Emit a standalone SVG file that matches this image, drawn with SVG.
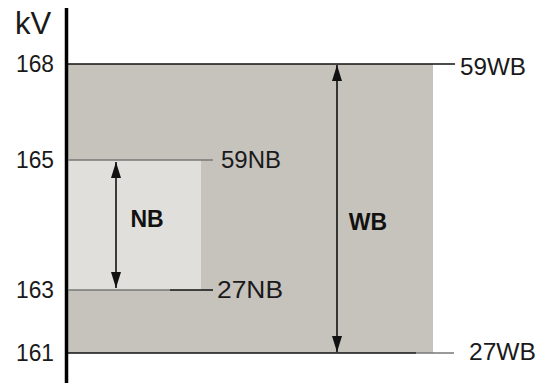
<svg xmlns="http://www.w3.org/2000/svg" width="544" height="383" viewBox="0 0 544 383">
<defs>
<style>
.t{font-family:"Liberation Sans",Arial,sans-serif;font-size:23px;fill:#1a1a1a}
.b{font-family:"Liberation Sans",Arial,sans-serif;font-size:23px;font-weight:bold;fill:#111}
.ln{stroke:#111;stroke-width:1.6;fill:none}
.gl{stroke:#777;stroke-width:1.6;fill:none}
.ar{stroke:#111;stroke-width:1.6;fill:none;marker-start:url(#ah);marker-end:url(#ah)}
</style>
<marker id="ah" markerUnits="userSpaceOnUse" markerWidth="16" markerHeight="10" viewBox="0 0 16 10" refX="16" refY="5" orient="auto-start-reverse">
<path d="M0,0 L16,5 L0,10 Z" fill="#111"/>
</marker>
</defs>
<g id="wb-band">
<rect x="67" y="64" width="366" height="289" fill="#c6c3bd"/>
</g>
<g id="nb-band">
<rect x="67" y="160" width="134" height="130" fill="#e0dfdb"/>
</g>
<g id="axis">
<line x1="66.5" y1="8" x2="66.5" y2="383" stroke="#000" stroke-width="3.5"/>
<text class="t" x="15" y="34" style="font-size:31px">kV</text>
<text class="t" x="54" y="72" text-anchor="end" textLength="38" lengthAdjust="spacingAndGlyphs">168</text>
<text class="t" x="54" y="168" text-anchor="end" textLength="38" lengthAdjust="spacingAndGlyphs">165</text>
<text class="t" x="54" y="298" text-anchor="end" textLength="38" lengthAdjust="spacingAndGlyphs">163</text>
<text class="t" x="54" y="361" text-anchor="end" textLength="38" lengthAdjust="spacingAndGlyphs">161</text>
</g>
<g id="connectors">
<line class="ln" x1="68" y1="64" x2="455" y2="64"/>
<line class="ln" x1="68" y1="353" x2="416" y2="353"/>
<line class="gl" x1="416" y1="353" x2="454" y2="353"/>
<line class="gl" x1="68" y1="160" x2="213" y2="160"/>
<line class="gl" x1="68" y1="290" x2="170" y2="290"/>
<line class="ln" x1="170" y1="290" x2="213" y2="290"/>
<line class="ar" x1="116" y1="162" x2="116" y2="288"/>
<line class="ar" x1="337" y1="65" x2="337" y2="352"/>
</g>
<g id="label-59WB"><text class="t" x="460" y="75" textLength="66" lengthAdjust="spacingAndGlyphs">59WB</text></g>
<g id="label-27WB"><text class="t" x="469" y="360" textLength="67" lengthAdjust="spacingAndGlyphs">27WB</text></g>
<g id="label-59NB"><text class="t" x="221" y="168" textLength="60" lengthAdjust="spacingAndGlyphs">59NB</text></g>
<g id="label-27NB"><text class="t" x="217" y="298" textLength="66" lengthAdjust="spacingAndGlyphs">27NB</text></g>
<g id="label-NB"><text class="b" x="147" y="227" text-anchor="middle">NB</text></g>
<g id="label-WB"><text class="b" x="368" y="230" text-anchor="middle">WB</text></g>
</svg>
